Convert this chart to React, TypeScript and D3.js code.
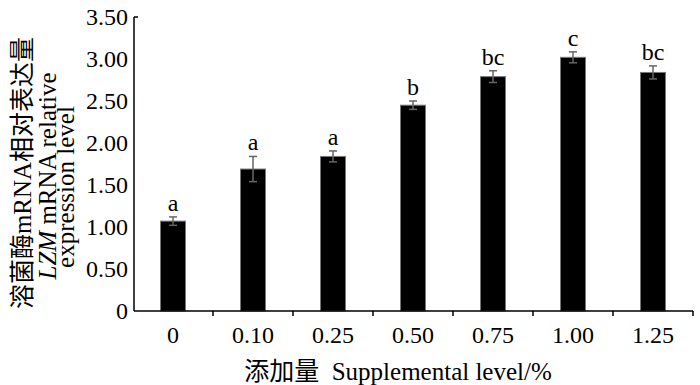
import React from 'react';
import * as d3 from 'd3';

// supplemental levels (%) and LZM mRNA relative expression
const levels = ['0', '0.10', '0.25', '0.50', '0.75', '1.00', '1.25'];
const expression = [1.07, 1.69, 1.84, 2.45, 2.79, 3.02, 2.84];
const errors = [0.05, 0.15, 0.065, 0.05, 0.07, 0.065, 0.078];
const letters = ['a', 'a', 'a', 'b', 'bc', 'c', 'bc'];
const yTicks = [0, 0.5, 1, 1.5, 2, 2.5, 3, 3.5];

const W = 700;
const H = 385;
const FONT = '"Liberation Serif", "Times New Roman", "Noto Sans CJK SC", serif';

export default function App() {
  const left = 134;
  const right = 693;
  const top = 17;
  const bottom = 311;

  const x = d3.scaleBand().domain(levels).range([133, right]);
  const y = d3.scaleLinear().domain([0, 3.5]).range([bottom, top]);
  const barW = 25;
  const fmt = (d: number) => (d === 0 ? '0' : d.toFixed(2));

  return (
    <svg
      width={W}
      height={H}
      style={{ position: 'absolute', left: 0, top: 0, background: '#fff' }}
      fontFamily={FONT}
    >
      {/* bars */}
      {levels.map((l, i) => {
        const cx = x(l)! + x.bandwidth() / 2;
        const v = expression[i];
        const e = errors[i];
        return (
          <g key={l}>
            <rect
              x={cx - barW / 2}
              y={y(v)}
              width={barW}
              height={y(0) - y(v)}
              fill="#000"
              stroke="#777"
              strokeWidth={1}
            />
            <line x1={cx} x2={cx} y1={y(v + e)} y2={y(v - e)} stroke="#666" strokeWidth={1.5} />
            <line x1={cx - 4} x2={cx + 4} y1={y(v + e)} y2={y(v + e)} stroke="#666" strokeWidth={1.5} />
            <line x1={cx - 4} x2={cx + 4} y1={y(v - e)} y2={y(v - e)} stroke="#666" strokeWidth={1.5} />
            <text x={cx} y={y(v + e) - 6} textAnchor="middle" fontSize={24} fill="#000">
              {letters[i]}
            </text>
          </g>
        );
      })}

      {/* y axis */}
      <line x1={left} x2={left} y1={top} y2={bottom} stroke="#000" strokeWidth={1.5} />
      <line x1={left} x2={left + 4} y1={top} y2={top} stroke="#000" strokeWidth={1.5} />
      {yTicks.map((t) => (
        <text key={t} x={128} y={y(t)} dy="0.35em" textAnchor="end" fontSize={24} fill="#000">
          {fmt(t)}
        </text>
      ))}

      {/* x axis */}
      <line x1={left} x2={right} y1={bottom} y2={bottom} stroke="#000" strokeWidth={1.5} />
      {levels.slice(1).map((l) => (
        <line key={l} x1={x(l)!} x2={x(l)!} y1={bottom} y2={bottom + 5} stroke="#000" strokeWidth={1.5} />
      ))}
      <line x1={right} x2={right} y1={bottom} y2={bottom + 5} stroke="#000" strokeWidth={1.5} />
      {levels.map((l) => (
        <text key={l} x={x(l)! + x.bandwidth() / 2} y={343} textAnchor="middle" fontSize={24} fill="#000">
          {l}
        </text>
      ))}

      {/* axis titles */}
      <text x={398} y={380} textAnchor="middle" fontSize={25} fill="#000">
        {'添加量\u00a0\u00a0Supplemental level/%'}
      </text>
      <text transform="translate(31,173) rotate(-90)" textAnchor="middle" fontSize={25} fill="#000">
        溶菌酶mRNA相对表达量
      </text>
      <text transform="translate(56,176) rotate(-90)" textAnchor="middle" fontSize={25} fill="#000">
        <tspan fontStyle="italic">LZM</tspan> mRNA relative
      </text>
      <text transform="translate(74,187) rotate(-90)" textAnchor="middle" fontSize={25} fill="#000">
        expression level
      </text>
    </svg>
  );
}
